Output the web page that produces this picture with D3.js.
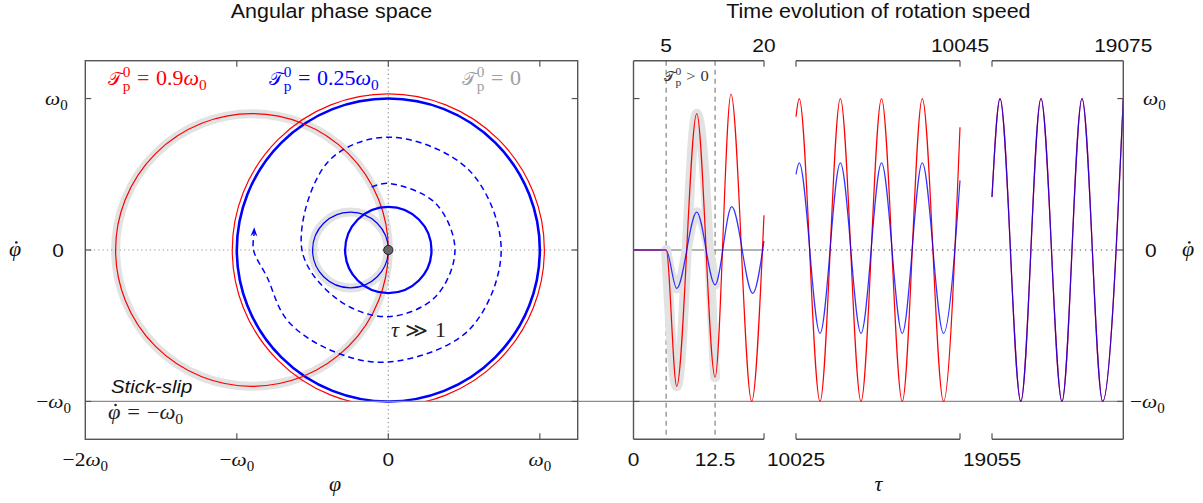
<!DOCTYPE html>
<html>
<head>
<meta charset="utf-8">
<script src="https://cdn.jsdelivr.net/npm/d3@7"></script>
<style>
body { margin: 0; background: #fff; }
svg { display: block; }
</style>
</head>
<body>
<div id="chart"></div>
<script>
// ---- data (speeds in units of omega0) ----
var phaseTicks = [-2, -1, 0, 1];
var phaseTickLabels = [["−2", "ω"], ["−", "ω"], ["0"], ["", "ω"]];
var speedTicks = [1, 0, -1];

// phase space circles: centre (phi, phidot) and radius
var redStart = { cx: -0.9, cy: 0, r: 0.9 };
var redCycle = { cx: 0, cy: 0, r: 1.03 };
var blueStart = { cx: -0.25, cy: 0, r: 0.25 };
var blueSmall = { cx: 0, cy: 0, r: 0.285 };
var blueCycle = { cx: 0, cy: 0, r: 1 };

// dashed spiral growing towards the limit cycle
var spiralPhi = [-0.11, 0.00, 0.31, 0.44, 0.31, 0.00, -0.33, -0.57, -0.40, 0.00, 0.53, 0.745, 0.53, 0.00, -0.385, -0.67, -0.80, -0.89, -0.885];
var spiralDot = [0.415, 0.44, 0.31, 0.00, -0.31, -0.44, -0.33, 0.00, 0.58, 0.745, 0.53, 0.00, -0.53, -0.74, -0.66, -0.46, -0.18, 0.00, 0.15];

// time axis: three broken segments
var segDomains = [[0, 20], [10025, 10045], [19055, 19075]];
var topTicks = [[0, 5], [0, 20], [1, 10045], [2, 19075]];
var bottomTicks = [[0, 0], [0, 12.5], [1, 10025], [2, 19055]];
var forceOn = [5, 12.5];

var seg1RedTau = [0, 5, 6.62, 9.69, 12.5, 14.94, 18.11, 20];
var seg1Red = [0, 0, -0.90, 0.90, -0.84, 1.03, -1.0, 0.23];
var seg1BlueTau = [0, 5, 6.62, 9.69, 12.5, 15.05, 18.27, 20];
var seg1Blue = [0, 0, -0.254, 0.25, -0.23, 0.286, -0.286, 0.06];

var seg2Tau = [10025, 10025.39, 10027.93, 10030.41, 10032.93, 10035.43, 10037.96, 10040.40, 10042.99, 10045];
var seg2Red = [0.88, 1, -1, 1, -1, 1, -1, 1, -1, 0.81];
var seg2Blue = [0.50, 0.575, -0.55, 0.575, -0.55, 0.575, -0.55, 0.575, -0.55, 0.46];

var seg3Tau = [19055, 19056.22, 19059.39, 19062.46, 19065.66, 19068.71, 19071.86, 19075];
var seg3Red = [0.35, 1, -1, 1, -1, 1, -1, 1];
var seg3Blue = [0.35, 1, -1, 1, -1, 1, -1, 1];

// ---- layout ----
var svgWidth = 1203, svgHeight = 503;
var frameTop = 60.7, frameBottom = 439.3;
var segRanges = [[633.5, 764], [796, 960], [992, 1123.3]];
var SX = 1.1; // text looks a bit stretched horizontally
var SANS = "'Liberation Sans', Arial, Helvetica, sans-serif";
var SERIF = "'Liberation Serif', 'Times New Roman', serif";
var RED = "#ff0000", BLUE = "#0000ff", HILITE = "#e2e2e2", FRAME = "#555";

var svg = d3.select("#chart").append("svg")
  .attr("width", svgWidth)
  .attr("height", svgHeight);

var xPhase = d3.scaleLinear().domain([-2, 1.25]).range([85.3, 577.7]);
var ySpeed = d3.scaleLinear().domain([-1.25, 1.25]).range([frameBottom, frameTop]);
var unit = xPhase(1) - xPhase(0);
var xSeg = segDomains.map(function (d, i) {
  return d3.scaleLinear().domain(d).range(segRanges[i]);
});

// text helpers
function label(x, y, anchor, size, family) {
  return svg.append("text")
    .attr("transform", `translate(${x},${y}) scale(${SX},1)`)
    .attr("text-anchor", anchor)
    .attr("font-size", size)
    .attr("font-family", family);
}

// tokens: [kind, text]; kinds r, i, rel (spaced relation), sub, sup, under (stacked under a sup), cal
function math(t, tokens, size) {
  var shift = 0, pad = 0;
  tokens.forEach(function (tok) {
    var kind = tok[0], fs = size, target = 0, dx = pad;
    var ts = t.append("tspan").text(tok[1]);
    pad = 0;
    if (kind === "i") ts.attr("font-style", "italic");
    if (kind === "rel") { dx += 0.3 * size; pad = 0.3 * size; }
    if (kind === "sub") { fs = 0.7 * size; target = 0.26 * size; }
    if (kind === "sup") { fs = 0.7 * size; target = -0.42 * size; }
    if (kind === "under") { fs = 0.7 * size; target = 0.3 * size; dx -= 0.35 * size; }
    if (kind === "cal") { ts.attr("font-family", "'DejaVu Serif', serif"); fs = 0.86 * size; }
    ts.attr("font-size", fs);
    if (dx) ts.attr("dx", dx);
    if (target !== shift) { ts.attr("dy", target - shift); shift = target; }
  });
  return t;
}

// dot over character idx (phi-dot)
function dotOver(t, idx, size) {
  var box = t.node().getExtentOfChar(idx);
  svg.append("circle")
    .attr("transform", t.attr("transform"))
    .attr("cx", box.x + box.width / 2 + 1.2)
    .attr("cy", -0.68 * size)
    .attr("r", 1.2)
    .attr("fill", t.attr("fill") || "#000");
}

function calT(rest) {
  return [["cal", "\uD835\uDCAF"], ["sup", "0"], ["under", "p"]].concat(rest);
}

// ---- left panel: phase space ----
svg.append("clipPath").attr("id", "leftClip").append("rect")
  .attr("x", xPhase(-2)).attr("y", frameTop)
  .attr("width", xPhase(1.25) - xPhase(-2)).attr("height", frameBottom - frameTop);
svg.append("clipPath").attr("id", "stickClip").append("rect")
  .attr("x", xPhase(-2)).attr("y", frameTop)
  .attr("width", xPhase(1.25) - xPhase(-2)).attr("height", ySpeed(-1) - frameTop);

var left = svg.append("g").attr("clip-path", "url(#leftClip)");

// grey highlight of the first period
[redStart, blueStart].forEach(function (c) {
  left.append("circle")
    .attr("cx", xPhase(c.cx)).attr("cy", ySpeed(c.cy)).attr("r", unit * c.r)
    .attr("fill", "none").attr("stroke", HILITE).attr("stroke-width", 9);
});

// dotted axes through origin
left.append("line")
  .attr("x1", xPhase(0)).attr("x2", xPhase(0)).attr("y1", frameTop).attr("y2", frameBottom)
  .attr("stroke", "#999").attr("stroke-width", 1.2).attr("stroke-dasharray", "1.3,3");
left.append("line")
  .attr("x1", xPhase(-2)).attr("x2", xPhase(1.25)).attr("y1", ySpeed(0)).attr("y2", ySpeed(0))
  .attr("stroke", "#999").attr("stroke-width", 1.2).attr("stroke-dasharray", "1.3,3");

// stick line phidot = -omega0, runs across both panels
svg.append("line")
  .attr("x1", xPhase(-2)).attr("x2", segRanges[2][1])
  .attr("y1", ySpeed(-1)).attr("y2", ySpeed(-1))
  .attr("stroke", "#8c8c8c").attr("stroke-width", 1.3);

left.append("circle")
  .attr("clip-path", "url(#stickClip)")
  .attr("cx", xPhase(redCycle.cx)).attr("cy", ySpeed(redCycle.cy)).attr("r", unit * redCycle.r)
  .attr("fill", "none").attr("stroke", RED).attr("stroke-width", 1.2);

left.append("circle")
  .attr("cx", xPhase(blueCycle.cx)).attr("cy", ySpeed(blueCycle.cy)).attr("r", unit * blueCycle.r)
  .attr("fill", "none").attr("stroke", BLUE).attr("stroke-width", 2.6);

left.append("circle")
  .attr("cx", xPhase(redStart.cx)).attr("cy", ySpeed(redStart.cy)).attr("r", unit * redStart.r)
  .attr("fill", "none").attr("stroke", RED).attr("stroke-width", 1.2);

left.append("circle")
  .attr("cx", xPhase(blueStart.cx)).attr("cy", ySpeed(blueStart.cy)).attr("r", unit * blueStart.r)
  .attr("fill", "none").attr("stroke", BLUE).attr("stroke-width", 1.2);

left.append("circle")
  .attr("cx", xPhase(blueSmall.cx)).attr("cy", ySpeed(blueSmall.cy)).attr("r", unit * blueSmall.r)
  .attr("fill", "none").attr("stroke", BLUE).attr("stroke-width", 2.3);

// spiral
var spiral = spiralPhi.map(function (p, i) { return [p, spiralDot[i]]; });
var spiralLine = d3.line()
  .x(function (d) { return xPhase(d[0]); })
  .y(function (d) { return ySpeed(d[1]); })
  .curve(d3.curveCatmullRom.alpha(0.5));
var last = spiral[spiral.length - 1];
left.append("path")
  .attr("d", spiralLine(spiral.slice(0, -1).concat([[last[0], last[1] - 0.04]])))
  .attr("fill", "none").attr("stroke", BLUE).attr("stroke-width", 1.5)
  .attr("stroke-dasharray", "6,4");

// arrow head at the end of the spiral
var prev = spiral[spiral.length - 2];
var ang = Math.atan2(ySpeed(last[1]) - ySpeed(prev[1]), xPhase(last[0]) - xPhase(prev[0]));
var tx = xPhase(last[0]), ty = ySpeed(last[1]);
var ca = Math.cos(ang), sa = Math.sin(ang);
left.append("path")
  .attr("d", d3.line()([
    [tx, ty],
    [tx - 9 * ca + 3.5 * sa, ty - 9 * sa - 3.5 * ca],
    [tx - 6 * ca, ty - 6 * sa],
    [tx - 9 * ca - 3.5 * sa, ty - 9 * sa + 3.5 * ca]
  ]) + "Z")
  .attr("fill", BLUE);

// origin (rest state)
left.append("circle")
  .attr("cx", xPhase(0)).attr("cy", ySpeed(0)).attr("r", 4.6)
  .attr("fill", "#666").attr("stroke", "#222").attr("stroke-width", 1);

// frame and ticks
svg.append("rect")
  .attr("x", xPhase(-2)).attr("y", frameTop)
  .attr("width", xPhase(1.25) - xPhase(-2)).attr("height", frameBottom - frameTop)
  .attr("fill", "none").attr("stroke", FRAME).attr("stroke-width", 1.4);

phaseTicks.slice(1).forEach(function (v) {
  svg.append("line").attr("x1", xPhase(v)).attr("x2", xPhase(v))
    .attr("y1", frameTop).attr("y2", frameTop + 6).attr("stroke", FRAME).attr("stroke-width", 1.2);
  svg.append("line").attr("x1", xPhase(v)).attr("x2", xPhase(v))
    .attr("y1", frameBottom).attr("y2", frameBottom - 6).attr("stroke", FRAME).attr("stroke-width", 1.2);
});
speedTicks.forEach(function (v) {
  [[xPhase(-2), 6], [xPhase(1.25), -6], [segRanges[0][0], 6], [segRanges[2][1], -6]].forEach(function (s) {
    svg.append("line").attr("x1", s[0]).attr("x2", s[0] + s[1])
      .attr("y1", ySpeed(v)).attr("y2", ySpeed(v)).attr("stroke", FRAME).attr("stroke-width", 1.2);
  });
});

// ---- right panel: time evolution ----
var right = svg.append("g");

// zero line: solid in first segment, dotted after
right.append("line")
  .attr("x1", segRanges[0][0]).attr("x2", xSeg[0](20)).attr("y1", ySpeed(0)).attr("y2", ySpeed(0))
  .attr("stroke", "#9a9a9a").attr("stroke-width", 1.4);
right.append("line")
  .attr("x1", xSeg[0](20) + 3).attr("x2", segRanges[2][1]).attr("y1", ySpeed(0)).attr("y2", ySpeed(0))
  .attr("stroke", "#888").attr("stroke-width", 1.3).attr("stroke-dasharray", "1.3,4");

// dashed lines where the torque is on
forceOn.forEach(function (t) {
  right.append("line")
    .attr("x1", xSeg[0](t)).attr("x2", xSeg[0](t)).attr("y1", frameTop).attr("y2", frameBottom)
    .attr("stroke", "#777").attr("stroke-width", 1.1).attr("stroke-dasharray", "5,4");
});

function timeLine(sc) {
  return d3.line()
    .x(function (d) { return sc(d[0]); })
    .y(function (d) { return ySpeed(d[1]); })
    .curve(d3.curveMonotoneX);
}
function zipTau(tau, v) { return tau.map(function (t, i) { return [t, v[i]]; }); }

var series = [
  { seg: 0, red: zipTau(seg1RedTau, seg1Red), blue: zipTau(seg1BlueTau, seg1Blue) },
  { seg: 1, red: zipTau(seg2Tau, seg2Red), blue: zipTau(seg2Tau, seg2Blue) },
  { seg: 2, red: zipTau(seg3Tau, seg3Red), blue: zipTau(seg3Tau, seg3Blue) }
];

// highlight of the first period (tau 5 .. 12.5)
[series[0].red, series[0].blue].forEach(function (s) {
  var part = s.filter(function (d) { return d[0] >= forceOn[0] && d[0] <= forceOn[1]; });
  right.append("path")
    .attr("d", timeLine(xSeg[0])(part))
    .attr("fill", "none").attr("stroke", HILITE).attr("stroke-width", 10)
    .attr("stroke-linecap", "round").attr("stroke-linejoin", "round");
});

series.forEach(function (s) {
  right.append("path").attr("d", timeLine(xSeg[s.seg])(s.red))
    .attr("fill", "none").attr("stroke", RED).attr("stroke-width", 1.2);
  right.append("path").attr("d", timeLine(xSeg[s.seg])(s.blue))
    .attr("fill", "none").attr("stroke", BLUE).attr("stroke-width", 1.2)
    .attr("stroke-opacity", 0.8);
});

// broken frame (brackets)
right.append("line").attr("x1", segRanges[0][0]).attr("x2", segRanges[0][0])
  .attr("y1", frameTop).attr("y2", frameBottom).attr("stroke", FRAME).attr("stroke-width", 1.4);
right.append("line").attr("x1", segRanges[2][1]).attr("x2", segRanges[2][1])
  .attr("y1", frameTop).attr("y2", frameBottom).attr("stroke", FRAME).attr("stroke-width", 1.4);
segRanges.forEach(function (r, i) {
  [[frameTop, 6], [frameBottom, -6]].forEach(function (e) {
    right.append("line").attr("x1", r[0]).attr("x2", r[1]).attr("y1", e[0]).attr("y2", e[0])
      .attr("stroke", FRAME).attr("stroke-width", 1.4);
    if (i > 0) right.append("line").attr("x1", r[0]).attr("x2", r[0]).attr("y1", e[0]).attr("y2", e[0] + e[1])
      .attr("stroke", FRAME).attr("stroke-width", 1.2);
    if (i < 2) right.append("line").attr("x1", r[1]).attr("x2", r[1]).attr("y1", e[0]).attr("y2", e[0] + e[1])
      .attr("stroke", FRAME).attr("stroke-width", 1.2);
  });
});

// ---- texts ----
label(331.5, 18, "middle", 19.5, SANS).attr("fill", "#111").text("Angular phase space");
label(878.4, 18, "middle", 19.5, SANS).attr("fill", "#111").text("Time evolution of rotation speed");

// left bottom tick labels
phaseTicks.forEach(function (v, i) {
  var l = phaseTickLabels[i];
  if (l.length === 1) {
    label(xPhase(v), 466, "middle", 19, SANS).attr("fill", "#111").text(l[0]);
  } else {
    math(label(xPhase(v), 466, "middle", 19.5, SERIF).attr("fill", "#111"),
      [["r", l[0]], ["i", l[1]], ["sub", "0"]], 19.5);
  }
});
math(label(335, 491, "middle", 20, SERIF).attr("fill", "#111"), [["i", "φ"]], 20);

// left y labels
math(label(45, 105, "start", 19.5, SERIF).attr("fill", "#111"), [["i", "ω"], ["sub", "0"]], 19.5);
label(58, 257, "middle", 19, SANS).attr("fill", "#111").text("0");
math(label(71, 408, "end", 19.5, SERIF).attr("fill", "#111"), [["r", "−"], ["i", "ω"], ["sub", "0"], ["r", " "]], 19.5);
var yLabL = math(label(15, 256, "middle", 20, SERIF).attr("fill", "#111"), [["i", "φ"]], 20);
dotOver(yLabL, 0, 20);

// right y labels
math(label(1143, 105, "start", 19.5, SERIF).attr("fill", "#111"), [["i", "ω"], ["sub", "0"]], 19.5);
label(1145, 257, "start", 19, SANS).attr("fill", "#111").text("0");
math(label(1130, 408, "start", 19.5, SERIF).attr("fill", "#111"), [["r", "−"], ["i", "ω"], ["sub", "0"]], 19.5);
var yLabR = math(label(1188, 256, "middle", 20, SERIF).attr("fill", "#111"), [["i", "φ"]], 20);
dotOver(yLabR, 0, 20);

// time tick labels
topTicks.forEach(function (d) {
  label(xSeg[d[0]](d[1]), 52, "middle", 19, SANS).attr("fill", "#111").text(d[1]);
});
bottomTicks.forEach(function (d) {
  label(xSeg[d[0]](d[1]), 466, "middle", 19, SANS).attr("fill", "#111").text(d[1]);
});
math(label(878.4, 491, "middle", 20, SERIF).attr("fill", "#111"), [["i", "τ"]], 20);

// annotations
math(label(108, 85, "start", 20, SERIF).attr("fill", RED), calT([["rel", "="], ["r", "0.9"], ["i", "ω"], ["sub", "0"]]), 20);
math(label(269, 85, "start", 20, SERIF).attr("fill", BLUE), calT([["rel", "="], ["r", "0.25"], ["i", "ω"], ["sub", "0"]]), 20);
math(label(462, 85, "start", 20, SERIF).attr("fill", "#a0a0a0"), calT([["rel", "="], ["r", "0"]]), 20);
math(label(664, 81, "start", 15, SERIF).attr("fill", "#333"), calT([["rel", ">"], ["r", "0"]]), 15);

label(111, 393, "start", 18.5, SANS).attr("fill", "#111").attr("font-style", "italic").text("Stick-slip");
var stickEq = math(label(108, 419, "start", 20.5, SERIF).attr("fill", "#222"),
  [["i", "φ"], ["rel", "="], ["r", "−"], ["i", "ω"], ["sub", "0"]], 20.5);
dotOver(stickEq, 0, 20.5);

math(label(391, 337, "start", 20, SERIF).attr("fill", "#222"), [["i", "τ"], ["rel", "≫"], ["r", "1"]], 20);
</script>
</body>
</html>
